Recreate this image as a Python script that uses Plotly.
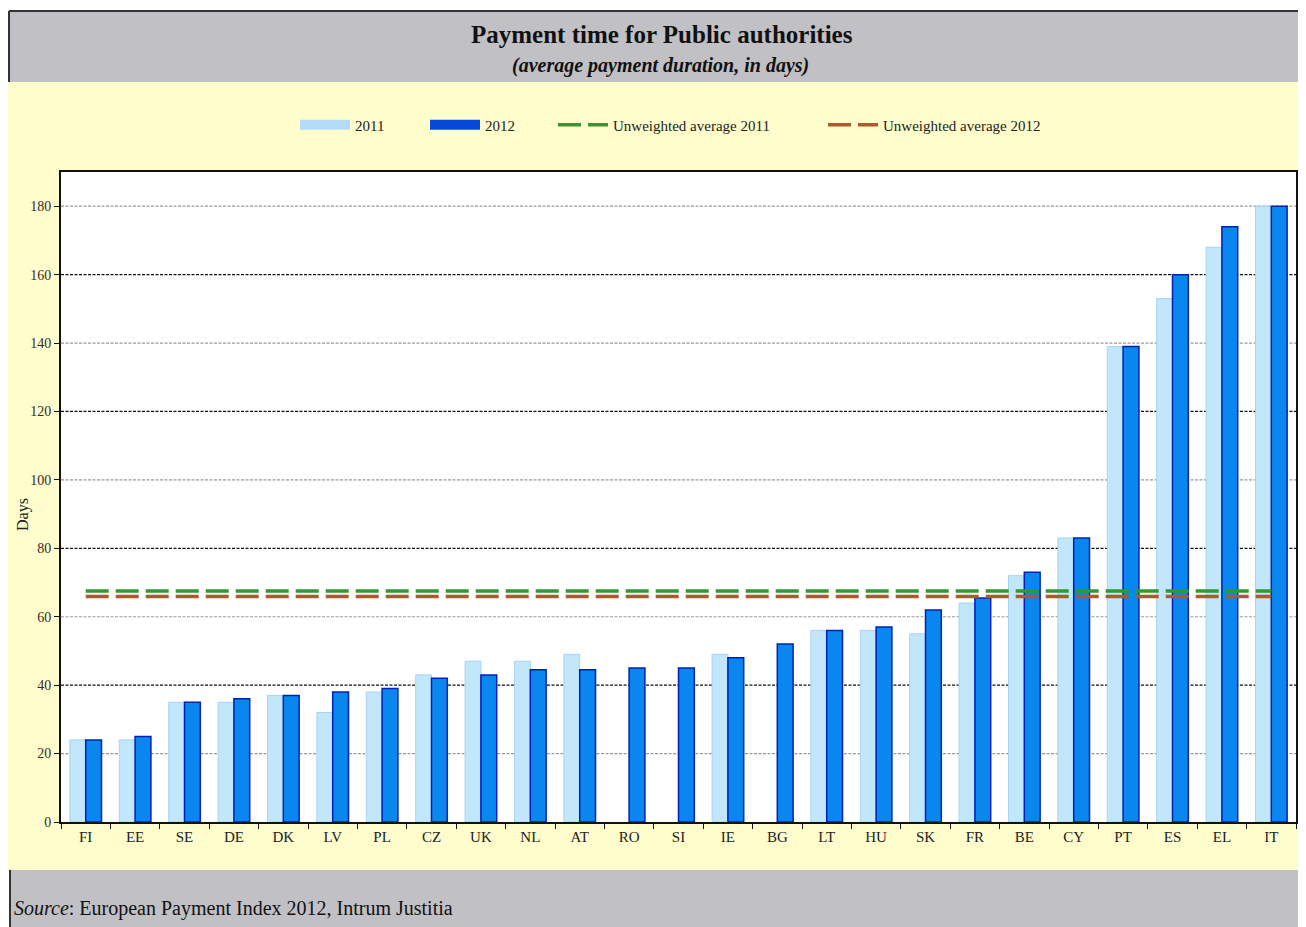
import numpy as np
import plotly.graph_objects as go

countries = ["FI", "EE", "SE", "DE", "DK", "LV", "PL", "CZ", "UK", "NL", "AT", "RO", "SI",
             "IE", "BG", "LT", "HU", "SK", "FR", "BE", "CY", "PT", "ES", "EL", "IT"]
days_2011 = [24, 24, 35, 35, 37, 32, 38, 43, 47, 47, 49, None, None,
             49, None, 56, 56, 55, 64, 72, 83, 139, 153, 168, 180]
days_2012 = [24, 25, 35, 36, 37, 38, 39, 42, 43, 44.5, 44.5, 45, 45,
             48, 52, 56, 57, 62, 65.5, 73, 83, 139, 160, 174, 180]
y_ticks = [0, 20, 40, 60, 80, 100, 120, 140, 160, 180]

# the page adds an 8px body margin; work in screen coordinates and shift
OFF = 8
W, H = 1306 - OFF, 927 - OFF
def px(x):
    return (x - OFF) / W
def py(y):
    return 1 - (y - OFF) / H

avg_2011 = float(np.nanmean(np.array(days_2011, dtype=float)))
avg_2012 = float(np.nanmean(np.array(days_2012, dtype=float)))

SERIF = "Liberation Serif, Times New Roman, serif"
C11, C11_EDGE = "#c2e7fb", "#a6d4f2"
C12, C12_EDGE = "#0a86ef", "#0020b8"
GREEN, BROWN = "#2f9a2f", "#b05a2c"

X_DOM = [px(61), px(1296)]
Y_DOM = [py(822), py(172)]

fig = go.Figure()
fig.add_trace(go.Bar(
    x=countries, y=days_2011, name="2011", showlegend=False,
    marker=dict(color=C11, line=dict(color=C11_EDGE, width=1)),
))
fig.add_trace(go.Bar(
    x=countries, y=days_2012, name="2012", showlegend=False,
    marker=dict(color=C12, line=dict(color=C12_EDGE, width=1.5)),
))
fig.add_trace(go.Scatter(
    x=countries, y=[avg_2011] * len(countries), mode="lines",
    name="Unweighted average 2011", legend="legend3",
    line=dict(color=GREEN, width=3.5, dash="23px,7px"),
))
fig.add_trace(go.Scatter(
    x=countries, y=[avg_2012] * len(countries), mode="lines",
    name="Unweighted average 2012", legend="legend4",
    line=dict(color=BROWN, width=3.5, dash="23px,7px"),
))
# legend keys for the bar series (wide rectangles like the original)
fig.add_trace(go.Scatter(x=[None], y=[None], mode="lines", name="2011", legend="legend",
                         line=dict(color="#b3dcf7", width=10)))
fig.add_trace(go.Scatter(x=[None], y=[None], mode="lines", name="2012", legend="legend2",
                         line=dict(color="#0648d8", width=10)))

shapes = []
# background bands
shapes.append(dict(type="rect", xref="paper", yref="paper", x0=px(8), x1=1, y0=py(870), y1=py(82),
                   fillcolor="#fffdcb", line=dict(width=0), layer="below"))
shapes.append(dict(type="rect", xref="paper", yref="paper", x0=px(9), x1=1, y0=py(82), y1=py(11),
                   fillcolor="#c1c0c4", line=dict(width=0), layer="below"))
shapes.append(dict(type="rect", xref="paper", yref="paper", x0=px(10), x1=1, y0=0, y1=py(870),
                   fillcolor="#c1c0c4", line=dict(width=0), layer="below"))
shapes.append(dict(type="line", xref="paper", yref="paper", x0=px(9), x1=1, y0=py(11), y1=py(11),
                   line=dict(color="#333333", width=2), layer="below"))
shapes.append(dict(type="line", xref="paper", yref="paper", x0=px(9), x1=px(9), y0=py(82), y1=py(11),
                   line=dict(color="#333333", width=2), layer="below"))
shapes.append(dict(type="line", xref="paper", yref="paper", x0=px(10), x1=px(10), y0=0, y1=py(870),
                   line=dict(color="#333333", width=2), layer="below"))
# white plot area
shapes.append(dict(type="rect", xref="paper", yref="paper", x0=X_DOM[0], x1=X_DOM[1], y0=Y_DOM[0], y1=Y_DOM[1],
                   fillcolor="white", line=dict(width=0), layer="below"))
# gridlines: alternating grey / black dashed
for t in y_ticks:
    if t == 0:
        continue
    col = "#111111" if (t // 20) % 2 == 0 else "#9a9a9a"
    shapes.append(dict(type="line", xref="x domain", yref="y", x0=0, x1=1, y0=t, y1=t,
                       line=dict(color=col, width=1.2, dash="3px,1.5px"), layer="below"))

annotations = [
    dict(text="<b>Payment time for Public authorities</b>", x=px(662), y=py(34), xref="paper", yref="paper",
         showarrow=False, font=dict(family=SERIF, size=25, color="#111111"), xanchor="center", yanchor="middle"),
    dict(text="<b><i>(average payment duration, in days)</i></b>", x=px(660), y=py(65), xref="paper", yref="paper",
         showarrow=False, font=dict(family=SERIF, size=20, color="#111111"), xanchor="center", yanchor="middle"),
    dict(text="<i>Source</i>: European Payment Index 2012, Intrum Justitia", x=px(12), y=py(908),
         xref="paper", yref="paper", showarrow=False, xanchor="left", yanchor="middle",
         font=dict(family=SERIF, size=20, color="#111111")),
    dict(text="Days", x=px(23), y=py(515), xref="paper", yref="paper", showarrow=False, textangle=-90,
         xanchor="center", yanchor="middle", font=dict(family=SERIF, size=16, color="#222222")),
]

def leg(xpos):
    return dict(orientation="h", x=px(xpos), y=py(125), xanchor="left", yanchor="middle",
                bgcolor="rgba(0,0,0,0)", font=dict(family=SERIF, size=15, color="#222222"),
                itemwidth=50)

fig.update_layout(
    width=W, height=H,
    margin=dict(l=0, r=0, t=0, b=0),
    paper_bgcolor="white",
    plot_bgcolor="white",
    barmode="group",
    bargap=0.36,
    bargroupgap=0.0,
    shapes=shapes,
    annotations=annotations,
    showlegend=True,
    legend=leg(295),
    legend2=leg(425),
    legend3=leg(553),
    legend4=leg(823),
    font=dict(family=SERIF, color="#222222"),
    xaxis=dict(
        domain=X_DOM, type="category", categoryorder="array", categoryarray=countries,
        showline=True, linecolor="#111111", linewidth=2, mirror=True,
        ticks="outside", tickson="boundaries", ticklen=5, tickcolor="#111111",
        showgrid=False, tickfont=dict(family=SERIF, size=15, color="#222222"),
        automargin=False,
    ),
    yaxis=dict(
        domain=Y_DOM, range=[0, 190], tickvals=y_ticks,
        showline=True, linecolor="#111111", linewidth=2, mirror=True,
        ticks="outside", ticklen=5, tickcolor="#111111",
        showgrid=False, zeroline=False, tickfont=dict(family=SERIF, size=14, color="#3a2a2a"),
        automargin=False,
    ),
)

fig.write_html("out.html")
